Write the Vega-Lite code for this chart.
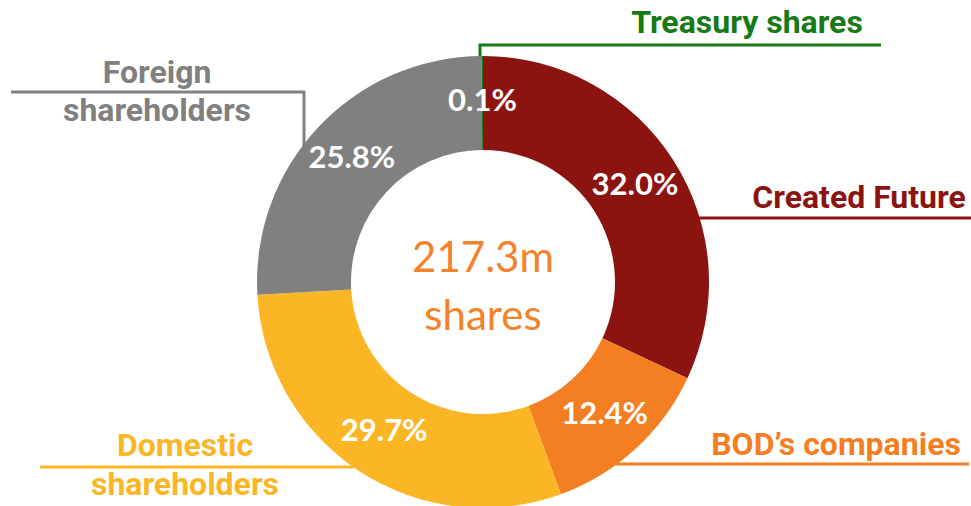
{
  "$schema": "https://vega.github.io/schema/vega-lite/v6.json",
  "width": 971,
  "height": 506,
  "autosize": "none",
  "padding": 0,
  "background": "white",
  "config": {"view": {"stroke": null}},
  "datasets": {
    "shares": [
      {"category": "Created Future", "value": 32.0, "label": "32.0%", "rank": 1},
      {"category": "BOD’s companies", "value": 12.4, "label": "12.4%", "rank": 2},
      {"category": "Domestic shareholders", "value": 29.7, "label": "29.7%", "rank": 3},
      {"category": "Foreign shareholders", "value": 25.8, "label": "25.8%", "rank": 4},
      {"category": "Treasury shares", "value": 0.1, "label": "0.1%", "rank": 5}
    ],
    "leaders": [
      {"category": "Treasury shares", "i": 1, "x": 480, "y": 60},
      {"category": "Treasury shares", "i": 2, "x": 480, "y": 45},
      {"category": "Treasury shares", "i": 3, "x": 881, "y": 45},
      {"category": "Created Future", "i": 1, "x": 697, "y": 218},
      {"category": "Created Future", "i": 2, "x": 971, "y": 218},
      {"category": "BOD’s companies", "i": 1, "x": 615, "y": 464},
      {"category": "BOD’s companies", "i": 2, "x": 969, "y": 464},
      {"category": "Domestic shareholders", "i": 1, "x": 40, "y": 467},
      {"category": "Domestic shareholders", "i": 2, "x": 354, "y": 467},
      {"category": "Foreign shareholders", "i": 1, "x": 11, "y": 92},
      {"category": "Foreign shareholders", "i": 2, "x": 304, "y": 92},
      {"category": "Foreign shareholders", "i": 3, "x": 304, "y": 148}
    ],
    "names": [
      {"category": "Treasury shares", "text": "Treasury shares", "x": 747, "y": 33},
      {"category": "Created Future", "text": "Created Future", "x": 859, "y": 208},
      {"category": "BOD’s companies", "text": "BOD’s companies", "x": 836, "y": 455},
      {"category": "Domestic shareholders", "text": "Domestic", "x": 185, "y": 456},
      {"category": "Domestic shareholders", "text": "shareholders", "x": 185, "y": 495},
      {"category": "Foreign shareholders", "text": "Foreign", "x": 157, "y": 83},
      {"category": "Foreign shareholders", "text": "shareholders", "x": 157, "y": 121}
    ],
    "centre": [
      {"text": "217.3m", "x": 483, "y": 272},
      {"text": "shares", "x": 483, "y": 330}
    ]
  },
  "resolve": {"scale": {"color": "shared"}},
  "layer": [
    {
      "data": {"name": "leaders"},
      "mark": {"type": "line", "strokeWidth": 3, "strokeCap": "butt", "strokeJoin": "miter"},
      "encoding": {
        "x": {"field": "x", "type": "quantitative", "scale": {"domain": [0, 971], "nice": false, "zero": false}, "axis": null},
        "y": {"field": "y", "type": "quantitative", "scale": {"domain": [0, 506], "nice": false, "zero": false, "reverse": true}, "axis": null},
        "detail": {"field": "category"},
        "order": {"field": "i", "type": "quantitative"},
        "color": {"field": "category", "type": "nominal", "legend": null,
          "scale": {"domain": ["Created Future", "BOD’s companies", "Domestic shareholders", "Foreign shareholders", "Treasury shares"],
                    "range": ["#8B1410", "#F47E22", "#FBB626", "#808080", "#167A16"]}}
      }
    },
    {
      "data": {"name": "shares"},
      "mark": {"type": "arc", "outerRadius": 226, "innerRadius": 132},
      "encoding": {
        "x": {"datum": 483, "type": "quantitative"},
        "y": {"datum": 282, "type": "quantitative"},
        "theta": {"field": "value", "type": "quantitative", "stack": true},
        "order": {"field": "rank", "type": "quantitative"},
        "color": {"field": "category", "type": "nominal", "legend": null}
      }
    },
    {
      "data": {"name": "shares"},
      "mark": {"type": "text", "radius": 180, "font": "Lato", "fontWeight": "bold", "fontSize": 31, "color": "white", "align": "center", "baseline": "middle"},
      "encoding": {
        "x": {"datum": 483, "type": "quantitative"},
        "y": {"datum": 282, "type": "quantitative"},
        "theta": {"field": "value", "type": "quantitative", "stack": true},
        "order": {"field": "rank", "type": "quantitative"},
        "detail": {"field": "category"},
        "text": {"field": "label"}
      }
    },
    {
      "data": {"name": "names"},
      "mark": {"type": "text", "font": "Roboto", "fontWeight": "bold", "fontSize": 32, "align": "center", "baseline": "alphabetic"},
      "encoding": {
        "x": {"field": "x", "type": "quantitative"},
        "y": {"field": "y", "type": "quantitative"},
        "color": {"field": "category", "type": "nominal", "legend": null},
        "text": {"field": "text"}
      }
    },
    {
      "data": {"name": "centre"},
      "mark": {"type": "text", "font": "Lato", "fontSize": 42, "color": "#F4822A", "align": "center", "baseline": "alphabetic"},
      "encoding": {
        "x": {"field": "x", "type": "quantitative"},
        "y": {"field": "y", "type": "quantitative"},
        "text": {"field": "text"}
      }
    }
  ]
}
